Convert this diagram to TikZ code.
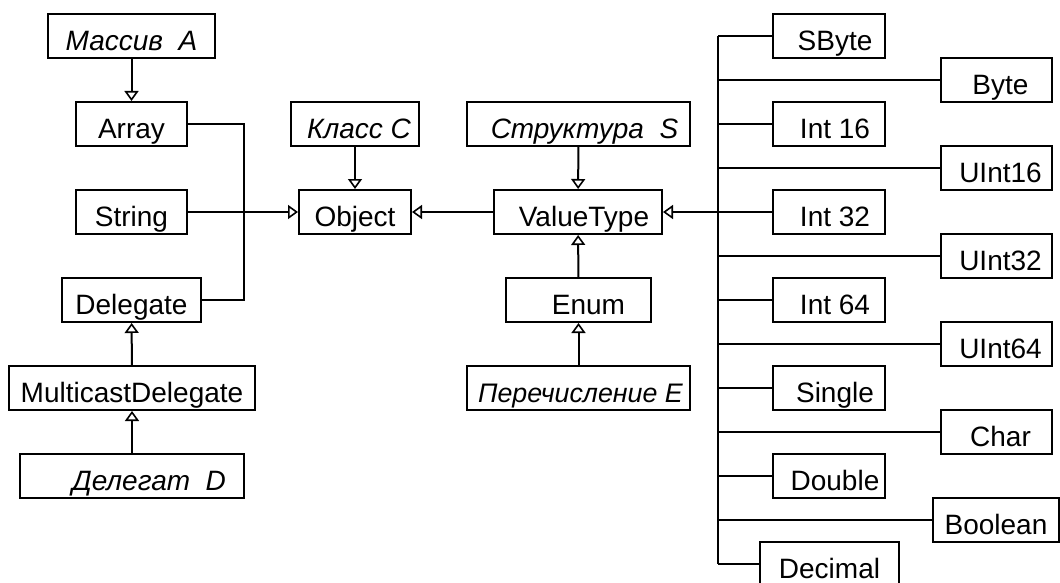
\documentclass[tikz,border=0pt]{standalone}
\usepackage{fontspec}
\setmainfont{Liberation Sans}
\usetikzlibrary{arrows.meta}
\tikzset{
        box/.style={draw, line width=1pt, minimum height=22pt, inner sep=0pt,
                text height=15.5pt, text depth=1pt, font=\fontsize{14}{16}\selectfont},
        ibox/.style={box, font=\fontsize{14}{16}\selectfont\itshape},
        wire/.style={line width=1pt},
        inh/.style={wire, -{Triangle[open, length=5pt, width=7pt, line width=0.8pt]}}
}

\begin{document}
\begin{tikzpicture}[x=0.5pt,y=-0.5pt]
        \useasboundingbox (0,0) rectangle (1060,583);
        \clip (0,0) rectangle (1060,583);
        % left part
        \node[ibox, minimum width=83.5pt] (massiv) at (131.5,36) {Массив\ \ A};
        \node[box, minimum width=55.5pt] (array) at (131.5,124) {Array};
        \node[box, minimum width=55.5pt] (string) at (131.5,212) {String};
        \node[box, minimum width=69.5pt] (delegate) at (131.5,300) {Delegate};
        \node[box, minimum width=123pt] (multicast) at (132,388) {MulticastDelegate};
        \node[ibox, minimum width=112pt] (delegat) at (132,476) {\hspace*{17pt}Делегат\ \ D};
        % middle part
        \node[ibox, minimum width=64pt] (klass) at (355,124) {\hspace*{4pt}Класс C};
        \node[box, minimum width=56pt] (object) at (355,212) {Object};
        \node[ibox, minimum width=111.5pt] (struktura) at (578.5,124) {\hspace*{6pt}Структура\ \ S};
        \node[box, minimum width=84pt] (valuetype) at (578,212) {\hspace*{6pt}ValueType};
        \node[box, minimum width=72.5pt] (enum) at (578.5,300) {\hspace*{10pt}Enum};
        \node[ibox, minimum width=111.5pt, font=\fontsize{13.4}{16}\selectfont\itshape] (perech)
                at (578.5,388) {\hspace*{2pt}Перечисление\ E};
        % value types
        \foreach \name/\txt/\y in {sbyte/SByte/36, int16/Int 16/124, int32/Int 32/212,
                int64/Int 64/300, single/Single/388, double/Double/476}
                \node[box, minimum width=56pt] (\name) at (829,\y) {\hspace*{6pt}\txt};
        \foreach \name/\txt/\y in {byte/Byte/80, uint16/UInt16/168, uint32/UInt32/256,
                uint64/UInt64/344, char/Char/432}
                \node[box, minimum width=55.5pt] (\name) at (996.5,\y) {\hspace*{4pt}\txt};
        \node[box, minimum width=63pt] (boolean) at (996,520) {Boolean};
        \node[box, minimum width=69.5pt] (decimal) at (829.5,564) {Decimal};

        \draw[inh] (massiv) -- (array);
        \draw[inh] (multicast) -- (delegate);
        \draw[inh] (delegat) -- (multicast);
        \coordinate (lbus) at (244,212);
        \draw[wire] (array.east) -| (lbus);
        \draw[wire] (delegate.east) -| (lbus);
        \draw[inh] (string.east) -- (object.west);
        \draw[inh] (klass) -- (object);
        \draw[inh] (valuetype.west) -- (object.east);
        \draw[inh] (struktura) -- (valuetype);
        \draw[inh] (enum) -- (valuetype);
        \draw[inh] (perech) -- (enum);
        \coordinate (bustop) at (718,36);
        \coordinate (busbot) at (718,564);
        \draw[wire] (bustop) -- (busbot);
        \foreach \name in {sbyte,byte,int16,uint16,uint32,int64,uint64,single,char,double,boolean,decimal}
                \draw[wire] (\name.west) -- (\name.west -| bustop);
        \draw[inh] (int32.west) -- (valuetype.east);
\end{tikzpicture}
\end{document}
